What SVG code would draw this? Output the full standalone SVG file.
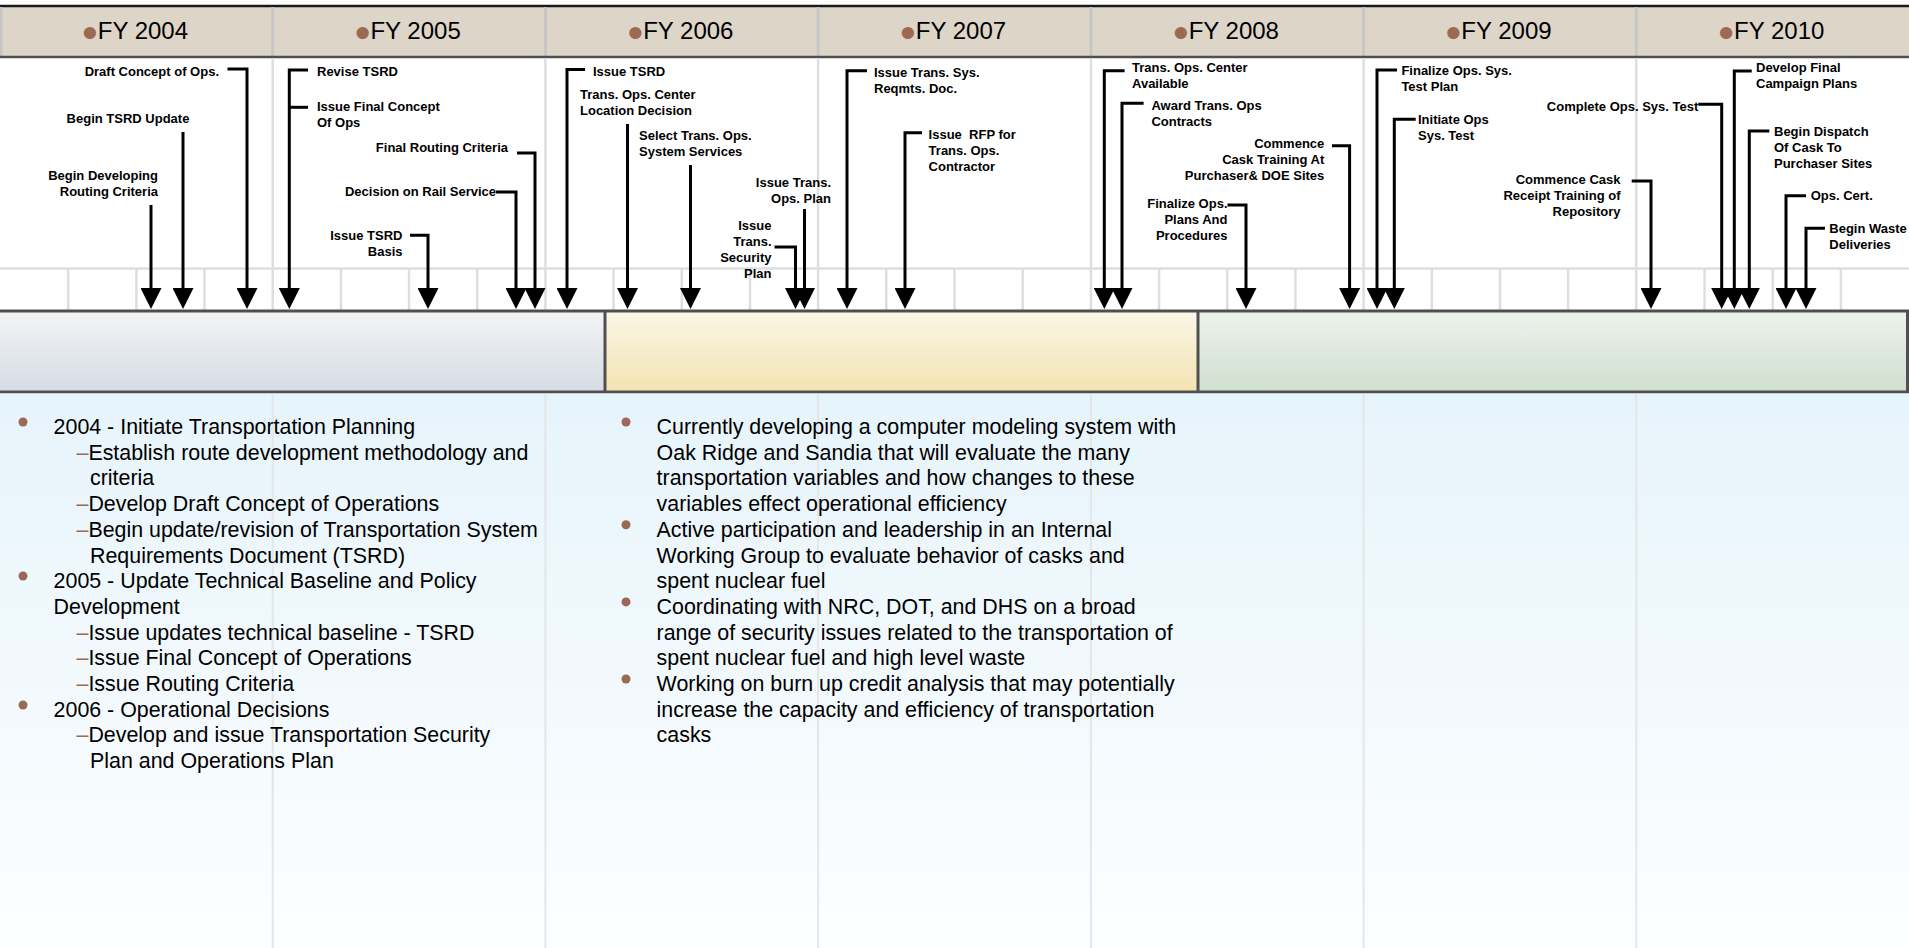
<svg xmlns="http://www.w3.org/2000/svg" width="1909" height="948" viewBox="0 0 1909 948">
<defs>
<style>
.hdr{font-family:"Liberation Sans",Arial,sans-serif;font-size:24px;fill:#000}
.hb{fill:#9c6a52;font-size:45px}
.ms{font-family:"Liberation Sans",Arial,sans-serif;font-size:13px;font-weight:bold;fill:#000}
.e{text-anchor:end}
.m{text-anchor:middle}
.body{font-family:"Liberation Sans",Arial,sans-serif;font-size:21.4px;fill:#000}
.dot{fill:#9c6a52}
.dash{fill:#9c6a52}
.conn{fill:none;stroke:#000;stroke-width:3;marker-end:url(#ah)}
.branch{fill:none;stroke:#000;stroke-width:3}
.cdiv{stroke:#dedede;stroke-width:2.5}
.ldiv{stroke:#e4e6e8;stroke-width:2}
.hdiv{stroke:#c6c6c6;stroke-width:3}
.bline{stroke:#505050;stroke-width:3}
</style>
<marker id="ah" viewBox="0 0 21 21" refX="3" refY="10.5" markerWidth="21" markerHeight="21" markerUnits="userSpaceOnUse" orient="auto">
<path d="M0,0 L21,10.5 L0,21 z" fill="#000"/>
</marker>
<linearGradient id="gGray" x1="0" y1="0" x2="0" y2="1"><stop offset="0" stop-color="#f3f4f6"/><stop offset="1" stop-color="#d5dce3"/></linearGradient>
<linearGradient id="gYel" x1="0" y1="0" x2="0" y2="1"><stop offset="0" stop-color="#faf6e7"/><stop offset="1" stop-color="#f4e3b2"/></linearGradient>
<linearGradient id="gGrn" x1="0" y1="0" x2="0" y2="1"><stop offset="0" stop-color="#edf2ed"/><stop offset="1" stop-color="#cfdfcf"/></linearGradient>
<linearGradient id="gBlue" x1="0" y1="0" x2="0" y2="1"><stop offset="0" stop-color="#e6f4fb"/><stop offset="1" stop-color="#fdfeff"/></linearGradient>
</defs>

<rect x="0" y="0" width="1909" height="948" fill="#fff"/>

<g id="header">
<rect x="0" y="7" width="1909" height="49" fill="#ddd5c7"/>
<line x1="0" y1="6" x2="1909" y2="6" stroke="#1a1a1a" stroke-width="2.5"/>
<g class="hdiv">
<line x1="1" y1="7" x2="1" y2="56"/>
<line x1="272.7" y1="7" x2="272.7" y2="56"/>
<line x1="545.4" y1="7" x2="545.4" y2="56"/>
<line x1="818.1" y1="7" x2="818.1" y2="56"/>
<line x1="1090.9" y1="7" x2="1090.9" y2="56"/>
<line x1="1363.6" y1="7" x2="1363.6" y2="56"/>
<line x1="1636.3" y1="7" x2="1636.3" y2="56"/>
</g>
<line x1="0" y1="57" x2="1909" y2="57" stroke="#505050" stroke-width="2.5"/>
<text class="hdr" x="82" y="39"><tspan class="hb" dy="9.3">•</tspan><tspan dy="-9.3">FY 2004</tspan></text>
<text class="hdr" x="354.7" y="39"><tspan class="hb" dy="9.3">•</tspan><tspan dy="-9.3">FY 2005</tspan></text>
<text class="hdr" x="627.4" y="39"><tspan class="hb" dy="9.3">•</tspan><tspan dy="-9.3">FY 2006</tspan></text>
<text class="hdr" x="900.1" y="39"><tspan class="hb" dy="9.3">•</tspan><tspan dy="-9.3">FY 2007</tspan></text>
<text class="hdr" x="1172.9" y="39"><tspan class="hb" dy="9.3">•</tspan><tspan dy="-9.3">FY 2008</tspan></text>
<text class="hdr" x="1445.6" y="39"><tspan class="hb" dy="9.3">•</tspan><tspan dy="-9.3">FY 2009</tspan></text>
<text class="hdr" x="1718.3" y="39"><tspan class="hb" dy="9.3">•</tspan><tspan dy="-9.3">FY 2010</tspan></text>
</g>

<g id="grid">
<g class="cdiv">
<line x1="272.7" y1="58" x2="272.7" y2="310"/>
<line x1="545.4" y1="58" x2="545.4" y2="310"/>
<line x1="818.1" y1="58" x2="818.1" y2="310"/>
<line x1="1090.9" y1="58" x2="1090.9" y2="310"/>
<line x1="1363.6" y1="58" x2="1363.6" y2="310"/>
<line x1="1636.3" y1="58" x2="1636.3" y2="310"/>
<line x1="0" y1="268.5" x2="1909" y2="268.5"/>
<line x1="68.2" y1="268" x2="68.2" y2="310"/>
<line x1="136.4" y1="268" x2="136.4" y2="310"/>
<line x1="204.5" y1="268" x2="204.5" y2="310"/>
<line x1="340.9" y1="268" x2="340.9" y2="310"/>
<line x1="409" y1="268" x2="409" y2="310"/>
<line x1="477.2" y1="268" x2="477.2" y2="310"/>
<line x1="613.6" y1="268" x2="613.6" y2="310"/>
<line x1="681.8" y1="268" x2="681.8" y2="310"/>
<line x1="750" y1="268" x2="750" y2="310"/>
<line x1="886.3" y1="268" x2="886.3" y2="310"/>
<line x1="954.5" y1="268" x2="954.5" y2="310"/>
<line x1="1022.7" y1="268" x2="1022.7" y2="310"/>
<line x1="1159.1" y1="268" x2="1159.1" y2="310"/>
<line x1="1227.2" y1="268" x2="1227.2" y2="310"/>
<line x1="1295.4" y1="268" x2="1295.4" y2="310"/>
<line x1="1431.8" y1="268" x2="1431.8" y2="310"/>
<line x1="1500" y1="268" x2="1500" y2="310"/>
<line x1="1568.1" y1="268" x2="1568.1" y2="310"/>
<line x1="1704.5" y1="268" x2="1704.5" y2="310"/>
<line x1="1772.7" y1="268" x2="1772.7" y2="310"/>
<line x1="1840.9" y1="268" x2="1840.9" y2="310"/>
</g>
</g>

<g id="phase-band">
<rect x="0" y="311" width="605" height="81" fill="url(#gGray)"/>
<rect x="605" y="311" width="593" height="81" fill="url(#gYel)"/>
<rect x="1198" y="311" width="711" height="81" fill="url(#gGrn)"/>
<g class="bline">
<line x1="0" y1="311" x2="1909" y2="311"/>
<line x1="0" y1="392" x2="1909" y2="392"/>
<line x1="605" y1="311" x2="605" y2="392"/>
<line x1="1198" y1="311" x2="1198" y2="392"/>
<line x1="1907.5" y1="311" x2="1907.5" y2="392"/>
</g>
</g>

<g id="notes-area">
<rect x="0" y="393.5" width="1909" height="554.5" fill="url(#gBlue)"/>
<g class="ldiv">
<line x1="272.7" y1="394" x2="272.7" y2="948"/>
<line x1="545.4" y1="394" x2="545.4" y2="948"/>
<line x1="818.1" y1="394" x2="818.1" y2="948"/>
<line x1="1090.9" y1="394" x2="1090.9" y2="948"/>
<line x1="1363.6" y1="394" x2="1363.6" y2="948"/>
<line x1="1636.3" y1="394" x2="1636.3" y2="948"/>
</g>
</g>

<g id="connectors">
<path class="conn" d="M227.5,69 H247 V291"/>
<path class="conn" d="M183,132 V291"/>
<path class="conn" d="M151,205 V291"/>
<path class="conn" d="M308,70 H289.3 V291"/>
<path class="branch" d="M308,107.3 H289.3"/>
<path class="conn" d="M517,153 H535 V291"/>
<path class="conn" d="M496,192 H516 V291"/>
<path class="conn" d="M410,235.3 H428 V291"/>
<path class="conn" d="M585,69.5 H567 V291"/>
<path class="conn" d="M627.5,124 V291"/>
<path class="conn" d="M690.5,165 V291"/>
<path class="conn" d="M804.5,209 V291"/>
<path class="conn" d="M774.5,247 H795.5 V291"/>
<path class="conn" d="M867,70.7 H847 V291"/>
<path class="conn" d="M922,132.7 H905 V291"/>
<path class="conn" d="M1124.6,70.7 H1104.3 V291"/>
<path class="conn" d="M1143.6,103.3 H1122 V291"/>
<path class="conn" d="M1332,145.7 H1349.6 V291"/>
<path class="conn" d="M1227.5,205 H1246 V291"/>
<path class="conn" d="M1397,70 H1377 V291"/>
<path class="conn" d="M1415.7,119.3 H1394.3 V291"/>
<path class="conn" d="M1631.7,181 H1651 V291"/>
<path class="conn" d="M1698.3,104.3 H1721.7 V291"/>
<path class="conn" d="M1751.7,71 H1734.3 V291"/>
<path class="conn" d="M1769.3,131 H1749.3 V291"/>
<path class="conn" d="M1806,195.7 H1786 V291"/>
<path class="conn" d="M1825,228.3 H1806 V291"/>
</g>

<g id="m-draft-conops"><text class="ms e" x="219" y="76">Draft Concept of Ops.</text></g>
<g id="m-begin-tsrd"><text class="ms m" x="128" y="123">Begin TSRD Update</text></g>
<g id="m-begin-routing"><text class="ms e"><tspan x="158" y="180">Begin Developing</tspan><tspan x="158" y="196">Routing Criteria</tspan></text></g>
<g id="m-revise-tsrd"><text class="ms" x="317" y="76">Revise TSRD</text></g>
<g id="m-final-conops"><text class="ms"><tspan x="317" y="111">Issue Final Concept</tspan><tspan x="317" y="127">Of Ops</tspan></text></g>
<g id="m-final-routing"><text class="ms e" x="508" y="152">Final Routing Criteria</text></g>
<g id="m-rail"><text class="ms e" x="496" y="196">Decision on Rail Service</text></g>
<g id="m-tsrd-basis"><text class="ms e"><tspan x="402.5" y="240">Issue TSRD</tspan><tspan x="402.5" y="256">Basis</tspan></text></g>
<g id="m-issue-tsrd"><text class="ms" x="593" y="76">Issue TSRD</text></g>
<g id="m-toc-location"><text class="ms"><tspan x="580" y="99">Trans. Ops. Center</tspan><tspan x="580" y="115">Location Decision</tspan></text></g>
<g id="m-select-services"><text class="ms"><tspan x="639" y="140">Select Trans. Ops.</tspan><tspan x="639" y="156">System Services</tspan></text></g>
<g id="m-ops-plan"><text class="ms e"><tspan x="831" y="187">Issue Trans.</tspan><tspan x="831" y="203">Ops. Plan</tspan></text></g>
<g id="m-security-plan"><text class="ms e"><tspan x="771.5" y="230">Issue</tspan><tspan x="771.5" y="246">Trans.</tspan><tspan x="771.5" y="262">Security</tspan><tspan x="771.5" y="278">Plan</tspan></text></g>
<g id="m-reqmts-doc"><text class="ms"><tspan x="874" y="77">Issue Trans. Sys.</tspan><tspan x="874" y="93">Reqmts. Doc.</tspan></text></g>
<g id="m-rfp"><text class="ms" xml:space="preserve"><tspan x="928.6" y="139">Issue  RFP for</tspan><tspan x="928.6" y="155">Trans. Ops.</tspan><tspan x="928.6" y="171">Contractor</tspan></text></g>
<g id="m-toc-available"><text class="ms"><tspan x="1132" y="72">Trans. Ops. Center</tspan><tspan x="1132" y="88">Available</tspan></text></g>
<g id="m-award"><text class="ms"><tspan x="1151.4" y="110">Award Trans. Ops</tspan><tspan x="1151.4" y="126">Contracts</tspan></text></g>
<g id="m-cask-training"><text class="ms e"><tspan x="1324.3" y="148">Commence</tspan><tspan x="1324.3" y="164">Cask Training At</tspan><tspan x="1324.3" y="180">Purchaser&amp; DOE Sites</tspan></text></g>
<g id="m-finalize-plans"><text class="ms e"><tspan x="1227.5" y="208">Finalize Ops.</tspan><tspan x="1227.5" y="224">Plans And</tspan><tspan x="1227.5" y="240">Procedures</tspan></text></g>
<g id="m-test-plan"><text class="ms"><tspan x="1401.4" y="75">Finalize Ops. Sys.</tspan><tspan x="1401.4" y="91">Test Plan</tspan></text></g>
<g id="m-init-test"><text class="ms"><tspan x="1418" y="124">Initiate Ops</tspan><tspan x="1418" y="140">Sys. Test</tspan></text></g>
<g id="m-receipt-training"><text class="ms e"><tspan x="1620.5" y="184">Commence Cask</tspan><tspan x="1620.5" y="200">Receipt Training of</tspan><tspan x="1620.5" y="216">Repository</tspan></text></g>
<g id="m-complete-test"><text class="ms e" x="1698.3" y="110.5">Complete Ops. Sys. Test</text></g>
<g id="m-campaign"><text class="ms"><tspan x="1756" y="72">Develop Final</tspan><tspan x="1756" y="88">Campaign Plans</tspan></text></g>
<g id="m-dispatch"><text class="ms"><tspan x="1774" y="136">Begin Dispatch</tspan><tspan x="1774" y="152">Of Cask To</tspan><tspan x="1774" y="168">Purchaser Sites</tspan></text></g>
<g id="m-ops-cert"><text class="ms" x="1810.7" y="200">Ops. Cert.</text></g>
<g id="m-waste"><text class="ms"><tspan x="1829.3" y="233">Begin Waste</tspan><tspan x="1829.3" y="249">Deliveries</tspan></text></g>

<g id="notes-left">
<circle class="dot" cx="23" cy="422" r="4.5"/>
<circle class="dot" cx="23" cy="576" r="4.5"/>
<circle class="dot" cx="23" cy="705" r="4.5"/>
<text class="body">
<tspan x="53.6" y="434">2004 - Initiate Transportation Planning</tspan>
<tspan x="76.5" y="459.7"><tspan class="dash">–</tspan>Establish route development methodology and</tspan>
<tspan x="90" y="485.4">criteria</tspan>
<tspan x="76.5" y="511.1"><tspan class="dash">–</tspan>Develop Draft Concept of Operations</tspan>
<tspan x="76.5" y="536.8"><tspan class="dash">–</tspan>Begin update/revision of Transportation System</tspan>
<tspan x="90" y="562.5">Requirements Document (TSRD)</tspan>
<tspan x="53.6" y="588.2">2005 - Update Technical Baseline and Policy</tspan>
<tspan x="53.6" y="613.9">Development</tspan>
<tspan x="76.5" y="639.6"><tspan class="dash">–</tspan>Issue updates technical baseline - TSRD</tspan>
<tspan x="76.5" y="665.3"><tspan class="dash">–</tspan>Issue Final Concept of Operations</tspan>
<tspan x="76.5" y="691"><tspan class="dash">–</tspan>Issue Routing Criteria</tspan>
<tspan x="53.6" y="716.7">2006 - Operational Decisions</tspan>
<tspan x="76.5" y="742.4"><tspan class="dash">–</tspan>Develop and issue Transportation Security</tspan>
<tspan x="90" y="768.1">Plan and Operations Plan</tspan>
</text>
</g>

<g id="notes-right">
<circle class="dot" cx="626" cy="422" r="4.5"/>
<circle class="dot" cx="626" cy="524.8" r="4.5"/>
<circle class="dot" cx="626" cy="601.9" r="4.5"/>
<circle class="dot" cx="626" cy="679" r="4.5"/>
<text class="body">
<tspan x="656.6" y="434">Currently developing a computer modeling system with</tspan>
<tspan x="656.6" y="459.7">Oak Ridge and Sandia that will evaluate the many</tspan>
<tspan x="656.6" y="485.4">transportation variables and how changes to these</tspan>
<tspan x="656.6" y="511.1">variables effect operational efficiency</tspan>
<tspan x="656.6" y="536.8">Active participation and leadership in an Internal</tspan>
<tspan x="656.6" y="562.5">Working Group to evaluate behavior of casks and</tspan>
<tspan x="656.6" y="588.2">spent nuclear fuel</tspan>
<tspan x="656.6" y="613.9">Coordinating with NRC, DOT, and DHS on a broad</tspan>
<tspan x="656.6" y="639.6">range of security issues related to the transportation of</tspan>
<tspan x="656.6" y="665.3">spent nuclear fuel and high level waste</tspan>
<tspan x="656.6" y="691">Working on burn up credit analysis that may potentially</tspan>
<tspan x="656.6" y="716.7">increase the capacity and efficiency of transportation</tspan>
<tspan x="656.6" y="742.4">casks</tspan>
</text>
</g>
</svg>
